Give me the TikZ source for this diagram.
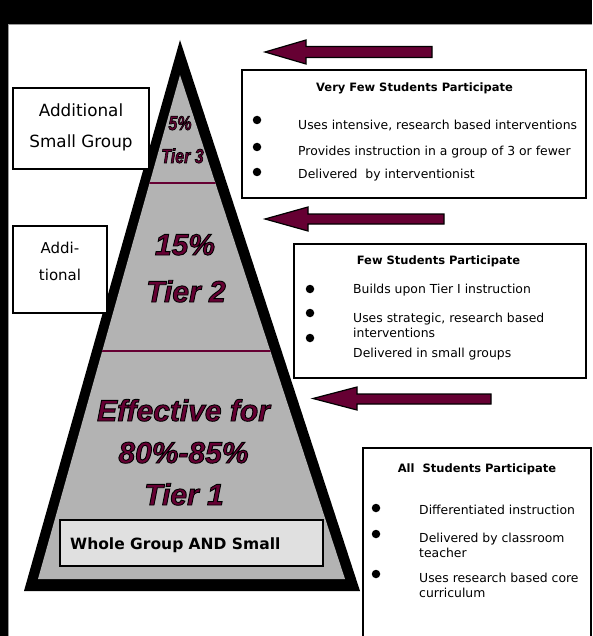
\documentclass[tikz,border=0pt]{standalone}
\usepackage{fontspec}
\setmainfont{DejaVu Sans}
\newfontfamily\tierfont{Liberation Sans}
\definecolor{maroon}{HTML}{660033}
\definecolor{pyrgray}{HTML}{B3B3B3}
\definecolor{boxgray}{HTML}{E0E0E0}
\definecolor{edgegray}{HTML}{9A9A9A}
\newcommand\outlinedtext[2]{\special{pdf:literal direct 0 0 0 RG 2 Tr #1 w}#2\special{pdf:literal direct 0 Tr}}
\begin{document}
\begin{tikzpicture}[x=1pt,y=-1pt,
  box/.style={draw=black, line width=2.5pt, fill=white, inner sep=0pt},
  bul/.style={circle, fill=black, minimum size=8.5pt, inner sep=0pt},
  body/.style={anchor=base west, inner sep=0pt, font=\fontsize{12.4}{15}\selectfont},
  ttl/.style={anchor=base, inner sep=0pt, font=\fontsize{11.5}{14}\selectfont\bfseries},
  side/.style={anchor=base, inner sep=0pt},
  tier/.style={anchor=base, inner sep=0pt, text=maroon, font=\tierfont\bfseries\itshape\fontsize{30}{32}\selectfont},
  tiersmall/.style={anchor=base, inner sep=0pt, text=maroon, font=\tierfont\bfseries\itshape\fontsize{20}{22}\selectfont},
  blockarrow/.style={fill=maroon, draw=black, line width=1.2pt, line join=miter},
  divider/.style={draw=maroon, line width=1.5pt}]

\useasboundingbox (0,0) rectangle (592,636);
\fill[white] (0,0) rectangle (592,636);
% frame
\fill[black] (0,0) rectangle (592,24);
\draw[edgegray, line width=1pt] (9,24.5) -- (592,24.5);
\fill[black] (0,0) rectangle (8,636);
\draw[edgegray, line width=1pt] (8.5,24) -- (8.5,636);

% pyramid
\fill[black] (180,40) -- (360,591) -- (24,591) -- cycle;
\fill[pyrgray] (180,75) -- (345,579) -- (38,579) -- cycle;
\begin{scope}
  \clip (180,75) -- (345,579) -- (38,579) -- cycle;
  \draw[divider] (100,183) -- (260,183);
  \draw[divider] (60,351) -- (300,351);
\end{scope}

% whole group box
\node[draw=black, line width=2pt, fill=boxgray, minimum width=263pt, minimum height=46pt, inner sep=0pt] (whole) at (191.5,543) {};
\node[anchor=base west, inner sep=0pt, font=\fontsize{15.5}{18}\selectfont\bfseries] (wholetxt) at (70,549) {Whole Group AND Small};

% side boxes
\node[box, minimum width=136pt, minimum height=81pt] (addsmall) at (81,128.5) {};
\node[side, font=\fontsize{16.8}{20}\selectfont] (addA) at (81,117) {Additional};
\node[side, font=\fontsize{16.8}{20}\selectfont] (addB) at (81,148) {Small Group};

\node[box, minimum width=94pt, minimum height=87pt] (addi) at (60,269.5) {};
\node[side, font=\fontsize{15}{18}\selectfont] (addiA) at (60,253) {Addi-};
\node[side, font=\fontsize{15}{18}\selectfont] (addiB) at (60,280) {tional};

% block arrows
\draw[blockarrow] (265,52) -- (306,40) -- (306,46.5) -- (432,46.5) -- (432,57.5) -- (306,57.5) -- (306,64) -- cycle;
\draw[blockarrow] (265,219) -- (308,207) -- (308,214) -- (444,214) -- (444,224) -- (308,224) -- (308,231) -- cycle;
\draw[blockarrow] (313,398.5) -- (357,387) -- (357,394) -- (491,394) -- (491,404) -- (357,404) -- (357,410) -- cycle;

% box 1
\node[box, minimum width=344pt, minimum height=128pt] (box1) at (414,134) {};
\node[ttl] (t1) at (414.5,92) {Very Few Students Participate};
\node[bul] (b1a) at (257,120) {};
\node[bul] (b1b) at (257,147) {};
\node[bul] (b1c) at (257,172) {};
\node[body] (l1a) at (298,130) {Uses intensive, research based interventions};
\node[body] (l1b) at (298,156) {Provides instruction in a group of 3 or fewer};
\node[body] (l1c) at (298,179) {Delivered\ \ by interventionist};

% box 2
\node[box, minimum width=292pt, minimum height=134pt] (box2) at (440,311) {};
\node[ttl] (t2) at (438.5,264) {Few Students Participate};
\node[bul] (b2a) at (310,289) {};
\node[bul] (b2b) at (310,313) {};
\node[bul] (b2c) at (310,338) {};
\node[body] (l2a) at (353,293) {Builds upon Tier I instruction};
\node[body] (l2b) at (353,322) {Uses strategic, research based};
\node[body] (l2c) at (353,337) {interventions};
\node[body] (l2d) at (353,357) {Delivered in small groups};

% box 3
\node[box, minimum width=228pt, minimum height=210pt] (box3) at (477,553) {};
\node[ttl] (t3) at (477,472) {All\ \ Students Participate};
\node[bul] (b3a) at (376,508) {};
\node[bul] (b3b) at (376,534) {};
\node[bul] (b3c) at (376,574) {};
\node[body] (l3a) at (419,514) {Differentiated instruction};
\node[body] (l3b) at (419,542) {Delivered by classroom};
\node[body] (l3c) at (419,557) {teacher};
\node[body] (l3d) at (419,582) {Uses research based core};
\node[body] (l3e) at (419,597) {curriculum};

% tier labels
\node[tiersmall, xscale=0.8, transform shape] (p3) at (180,130) {\outlinedtext{0.7}{5\%}};
\node[tiersmall, xscale=0.8, transform shape] (tr3) at (182.5,163) {\outlinedtext{0.7}{Tier 3}};
\node[tier] (p2) at (185,255) {\outlinedtext{0.9}{15\%}};
\node[tier] (tr2) at (186,302) {\outlinedtext{0.9}{Tier 2}};
\node[tier] (eff) at (183.5,421) {\outlinedtext{0.9}{Effective for}};
\node[tier] (p1) at (183.5,463) {\outlinedtext{0.9}{80\%-85\%}};
\node[tier] (tr1) at (184,505) {\outlinedtext{0.9}{Tier 1}};
\end{tikzpicture}
\end{document}
